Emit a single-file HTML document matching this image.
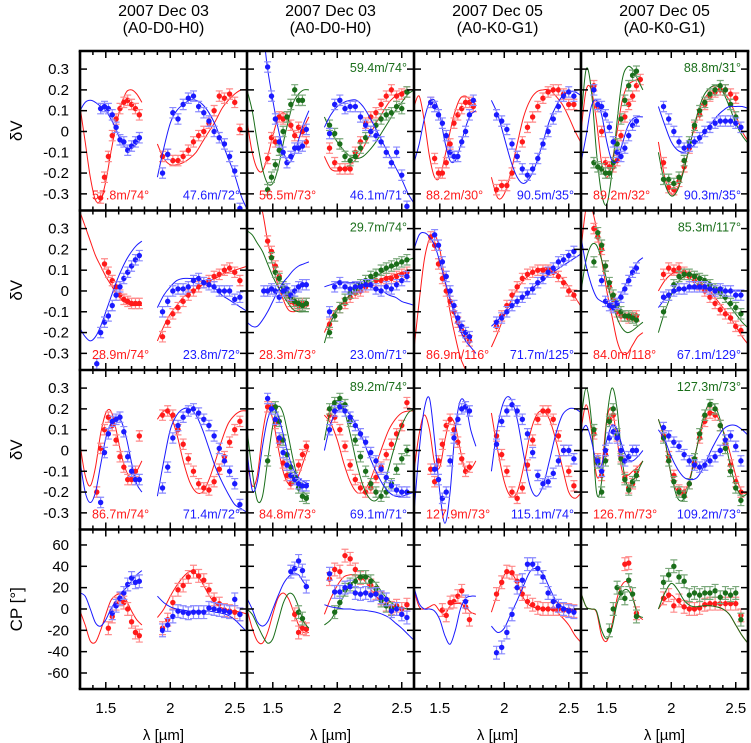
<!DOCTYPE html>
<html><head><meta charset="utf-8"><style>
html,body{margin:0;padding:0;background:#fff;}
svg{display:block;font-family:"Liberation Sans",Arial,sans-serif;}
</style></head><body>
<svg id="chart" width="751" height="743" viewBox="0 0 751 743" xmlns="http://www.w3.org/2000/svg"></svg>
<script>
// ---- wavelength grids (µm) ----
const hW=[1.40,1.43,1.46,1.49,1.52,1.55,1.58,1.61,1.64,1.67,1.70,1.73,1.76];
const kW=[1.94,1.98,2.02,2.06,2.10,2.14,2.18,2.22,2.26,2.30,2.34,2.38,2.42,2.46,2.50,2.54];
const cH=[1.30,1.34,1.38,1.42,1.46,1.50,1.54,1.58,1.62,1.66,1.70,1.74,1.78];
const cK=[1.90,1.95,2.00,2.05,2.10,2.15,2.20,2.25,2.30,2.35,2.40,2.45,2.50,2.55,2.60];
const xTicks=[1.5,2,2.5];
const xTickLabels=["1.5","2","2.5"];
const dvTicks=[-0.3,-0.2,-0.1,0,0.1,0.2,0.3];
const dvTickLabels=["-0.3","-0.2","-0.1","0","0.1","0.2","0.3"];
const cpTicks=[-60,-40,-20,0,20,40,60];
const cpTickLabels=["-60","-40","-20","0","20","40","60"];
const colTitles1=["2007 Dec 03","2007 Dec 03","2007 Dec 05","2007 Dec 05"];
const colTitles2=["(A0-D0-H0)","(A0-D0-H0)","(A0-K0-G1)","(A0-K0-G1)"];
const N=null;
// ---- series data: hp=H points, kp=K points, hc=H model, kc=K model ----
// Row 1
const r1c1_red={hp:[N,N,-0.32,-0.22,-0.12,-0.02,0.06,0.11,0.14,0.15,0.13,0.11,0.08],kp:[-0.12,-0.11,-0.14,-0.14,-0.12,-0.09,-0.05,-0.02,0.0,0.04,0.1,0.17,0.16,0.18,0.14,0.01],hc:[0.12,-0.05,-0.22,-0.33,-0.33,-0.24,-0.1,0.03,0.13,0.19,0.2,0.18,0.14],kc:[-0.06,-0.13,-0.16,-0.16,-0.15,-0.13,-0.1,-0.05,0.0,0.05,0.11,0.15,0.18,0.2,0.2]};
const r1c1_blue={hp:[N,N,0.11,0.12,0.11,0.08,0.02,-0.04,-0.05,-0.09,-0.07,-0.05,-0.03],kp:[-0.2,-0.11,0.09,0.06,0.13,0.16,0.17,0.12,0.09,0.05,0.0,-0.03,-0.06,-0.12,-0.19,-0.37],hc:[0.1,0.14,0.15,0.14,0.12,0.1,0.06,0.01,-0.05,-0.08,-0.08,-0.06,-0.03],kc:[-0.22,-0.08,0.04,0.1,0.13,0.15,0.15,0.13,0.09,0.03,-0.05,-0.13,-0.21,-0.31,-0.38]};
const r1c2_red={hp:[N,N,-0.13,-0.03,-0.05,0.07,0.06,0.07,0.03,-0.02,0.02,0.0,-0.05],kp:[-0.08,-0.15,-0.18,-0.18,-0.18,-0.1,-0.05,0.04,0.07,0.09,0.13,0.17,0.2,0.17,0.18,0.19],hc:[0.05,-0.1,-0.18,-0.19,-0.12,-0.02,0.06,0.09,0.06,0.0,-0.03,0.02,0.07],kc:[-0.12,-0.18,-0.19,-0.18,-0.16,-0.13,-0.08,-0.02,0.04,0.09,0.14,0.17,0.19,0.2,0.2]};
const r1c2_blue={hp:[N,N,0.31,0.17,0.06,-0.05,-0.1,-0.15,-0.12,-0.08,-0.08,-0.07,0.01],kp:[-0.01,0.13,0.15,0.11,0.12,0.12,0.07,0.03,0.0,-0.02,-0.05,-0.1,-0.15,-0.1,-0.21,-0.36],hc:[0.6,0.6,0.6,0.5,0.3,0.15,0.02,-0.09,-0.15,-0.12,-0.04,0.04,0.1],kc:[0.02,0.08,0.12,0.14,0.15,0.15,0.12,0.07,0.01,-0.05,-0.11,-0.17,-0.23,-0.3,-0.35]};
const r1c2_green={hp:[N,N,-0.28,-0.22,-0.16,-0.09,0.0,0.07,0.13,0.2,0.15,0.15,N],kp:[0.03,-0.01,-0.06,-0.12,-0.14,-0.12,-0.08,-0.03,0.0,0.03,0.06,0.08,0.09,0.12,0.11,0.19],hc:[0.2,0.1,-0.05,-0.18,-0.25,-0.25,-0.18,-0.06,0.05,0.14,0.18,0.2,0.2],kc:[0.07,0.0,-0.05,-0.09,-0.12,-0.13,-0.12,-0.09,-0.05,0.0,0.05,0.1,0.14,0.18,0.2]};
const r1c3_red={hp:[N,0.14,-0.13,-0.2,-0.2,-0.15,-0.06,0.04,0.08,0.11,0.14,0.14,0.12],kp:[-0.28,-0.26,-0.26,-0.2,-0.12,-0.05,0.02,0.07,0.12,0.16,0.19,0.2,0.2,0.18,0.13,0.13],hc:[0.12,0.17,0.05,-0.12,-0.22,-0.22,-0.12,0.0,0.1,0.16,0.17,0.15,0.13],kc:[-0.22,-0.32,-0.3,-0.2,-0.06,0.07,0.15,0.19,0.2,0.2,0.17,0.13,0.07,0.0,-0.06]};
const r1c3_blue={hp:[N,0.14,0.12,0.08,0.04,-0.02,-0.1,-0.12,-0.12,-0.05,0.0,0.08,0.15],kp:[0.08,0.05,0.01,-0.06,-0.12,-0.18,-0.21,-0.18,-0.13,-0.06,0.0,0.06,0.12,0.17,0.19,0.17],hc:[-0.15,-0.06,0.06,0.14,0.15,0.08,-0.05,-0.14,-0.14,-0.07,0.02,0.08,0.1],kc:[0.15,0.08,-0.03,-0.14,-0.22,-0.25,-0.22,-0.15,-0.05,0.05,0.12,0.17,0.19,0.19,0.17]};
const r1c4_red={hp:[0.22,0.12,0.0,-0.15,-0.17,-0.17,-0.14,-0.02,0.07,0.13,0.17,0.22,0.25],kp:[-0.15,-0.27,-0.28,-0.24,-0.17,-0.08,0.02,0.08,0.13,0.17,0.19,0.2,0.2,0.18,0.16,N],hc:[0.0,0.2,0.2,0.05,-0.15,-0.22,-0.15,0.0,0.15,0.22,0.24,0.25,0.25],kc:[-0.05,-0.22,-0.3,-0.27,-0.17,-0.05,0.07,0.15,0.19,0.2,0.19,0.15,0.08,0.0,-0.05]};
const r1c4_blue={hp:[0.2,0.13,0.12,0.08,0.02,-0.05,-0.1,-0.12,-0.08,-0.02,0.03,0.05,N],kp:[0.12,0.06,0.0,-0.05,-0.08,-0.07,-0.05,-0.03,0.0,0.02,0.04,0.05,0.05,0.05,0.04,0.02],hc:[-0.15,-0.02,0.12,0.15,0.08,-0.05,-0.14,-0.14,-0.06,0.02,0.06,0.07,0.07],kc:[0.12,0.03,-0.05,-0.09,-0.1,-0.08,-0.05,-0.01,0.03,0.07,0.1,0.12,0.12,0.12,0.11]};
const r1c4_green={hp:[-0.15,-0.17,-0.18,-0.2,-0.2,-0.15,-0.06,0.06,0.15,0.22,0.27,0.29,N],kp:[-0.23,-0.23,-0.25,-0.22,-0.14,-0.05,0.03,0.1,0.14,0.18,0.2,0.22,0.2,0.13,0.07,N],hc:[0.05,0.3,0.2,-0.1,-0.3,-0.35,-0.2,0.05,0.25,0.31,0.3,0.25,0.2],kc:[-0.1,-0.25,-0.31,-0.28,-0.18,-0.05,0.08,0.17,0.21,0.22,0.19,0.12,0.04,-0.02,-0.06]};
// Row 2
const r2c1_red={hp:[N,N,N,0.13,0.09,0.05,0.02,-0.02,-0.04,-0.05,-0.06,-0.06,-0.06],kp:[-0.22,-0.15,-0.11,-0.08,-0.05,-0.02,0.0,0.02,0.04,0.05,0.07,0.08,0.1,0.11,0.09,0.05],hc:[0.38,0.31,0.24,0.17,0.12,0.07,0.03,-0.01,-0.04,-0.06,-0.07,-0.07,-0.07],kc:[-0.24,-0.17,-0.11,-0.07,-0.03,-0.01,0.01,0.03,0.05,0.06,0.08,0.09,0.1,0.11,0.12]};
const r2c1_blue={hp:[N,-0.35,-0.2,-0.15,-0.12,-0.07,-0.02,0.02,0.06,0.09,0.12,0.15,0.17],kp:[-0.1,-0.05,0.0,0.01,0.01,0.02,0.05,0.06,0.04,0.03,0.02,0.0,0.0,0.0,-0.04,-0.03],hc:[-0.18,-0.22,-0.24,-0.22,-0.17,-0.1,-0.03,0.04,0.1,0.15,0.19,0.22,0.24],kc:[-0.08,-0.02,0.02,0.05,0.06,0.06,0.06,0.05,0.03,0.01,-0.02,-0.04,-0.06,-0.08,-0.1]};
const r2c2_red={hp:[N,N,0.24,0.19,0.12,0.07,0.02,-0.02,-0.05,-0.06,-0.07,-0.06,-0.06],kp:[-0.16,-0.12,-0.08,-0.06,-0.03,-0.01,0.0,0.02,0.03,0.05,0.05,0.06,0.06,0.07,0.08,0.09],hc:[0.6,0.6,0.45,0.38,0.24,0.12,0.03,-0.04,-0.09,-0.1,-0.09,-0.08,-0.07],kc:[-0.2,-0.13,-0.08,-0.05,-0.02,0.0,0.02,0.04,0.05,0.06,0.07,0.08,0.09,0.1,0.1]};
const r2c2_blue={hp:[N,0.0,0.0,0.01,0.0,-0.03,0.0,0.01,-0.02,0.0,0.02,0.03,0.03],kp:[-0.1,0.02,0.04,0.02,0.01,0.02,0.02,0.03,0.03,0.01,0.0,0.02,0.01,0.03,0.05,0.07],hc:[-0.15,-0.17,-0.17,-0.14,-0.1,-0.05,0.0,0.04,0.07,0.1,0.12,0.13,0.14],kc:[0.02,0.03,0.04,0.04,0.04,0.04,0.03,0.02,0.01,0.0,-0.02,-0.03,-0.05,-0.06,-0.07]};
const r2c2_green={hp:[N,N,N,0.16,0.09,0.06,0.02,-0.01,-0.03,-0.05,-0.06,-0.07,-0.06],kp:[-0.2,-0.12,-0.08,-0.04,-0.01,0.01,0.03,0.05,0.07,0.08,0.1,0.11,0.12,0.13,0.14,0.15],hc:[0.29,0.27,0.23,0.19,0.13,0.07,0.02,-0.02,-0.06,-0.09,-0.1,-0.1,-0.1],kc:[-0.25,-0.15,-0.09,-0.05,-0.02,0.01,0.03,0.05,0.07,0.09,0.11,0.12,0.14,0.15,0.16]};
const r2c3_red={hp:[N,0.26,0.22,0.13,0.06,0.0,-0.05,-0.1,-0.15,-0.19,-0.22,-0.24,N],kp:[-0.17,-0.12,-0.07,-0.02,0.02,0.06,0.08,0.09,0.1,0.1,0.1,0.09,0.07,0.04,0.0,-0.02],hc:[-0.28,-0.05,0.15,0.25,0.27,0.2,0.05,-0.1,-0.22,-0.32,-0.38,-0.45,-0.5],kc:[-0.27,-0.2,-0.12,-0.05,0.01,0.05,0.08,0.1,0.11,0.11,0.09,0.06,0.02,-0.03,-0.08]};
const r2c3_blue={hp:[N,N,0.27,0.22,0.14,0.07,0.0,-0.07,-0.13,-0.17,-0.2,-0.22,N],kp:[-0.15,-0.13,-0.1,-0.07,-0.05,-0.03,-0.01,0.01,0.04,0.06,0.09,0.11,0.14,0.15,0.17,0.19],hc:[0.2,0.27,0.28,0.26,0.22,0.14,0.05,-0.04,-0.12,-0.19,-0.24,-0.27,-0.3],kc:[-0.17,-0.14,-0.11,-0.08,-0.05,-0.03,0.0,0.03,0.05,0.08,0.1,0.12,0.14,0.16,0.18]};
const r2c4_red={hp:[0.3,0.26,0.2,0.12,0.02,-0.04,-0.1,-0.12,-0.12,-0.13,-0.12,-0.12,N],kp:[0.08,0.11,0.1,0.11,0.09,0.07,0.05,0.03,0.0,-0.03,-0.06,-0.09,-0.11,-0.13,-0.17,-0.19],hc:[0.2,0.4,0.4,0.3,0.15,0.0,-0.12,-0.24,-0.3,-0.3,-0.26,-0.22,-0.2],kc:[0.0,0.05,0.08,0.09,0.09,0.08,0.06,0.03,0.0,-0.04,-0.08,-0.12,-0.17,-0.22,-0.26]};
const r2c4_blue={hp:[N,N,0.05,-0.05,-0.07,-0.08,-0.06,-0.03,0.01,0.05,0.09,0.11,N],kp:[-0.03,-0.02,0.0,0.01,0.01,0.02,0.02,0.02,0.02,0.01,0.0,0.01,0.0,0.0,-0.02,-0.02],hc:[0.26,0.12,0.03,-0.03,-0.05,-0.06,-0.06,-0.04,0.0,0.05,0.1,0.14,0.16],kc:[-0.08,-0.04,-0.01,0.0,0.01,0.01,0.01,0.01,0.01,0.01,0.0,0.0,0.0,0.0,0.0]};
const r2c4_green={hp:[0.14,0.28,0.22,0.12,0.04,-0.02,-0.07,-0.1,-0.12,-0.12,-0.13,-0.14,N],kp:[-0.1,-0.02,0.03,0.07,0.08,0.08,0.07,0.06,0.05,0.03,0.01,-0.01,-0.03,-0.06,-0.08,-0.11],hc:[0.0,0.15,0.22,0.22,0.15,0.05,-0.05,-0.13,-0.18,-0.2,-0.19,-0.17,-0.15],kc:[-0.2,-0.1,-0.02,0.04,0.07,0.08,0.08,0.06,0.04,0.01,-0.03,-0.07,-0.11,-0.15,-0.18]};
// Row 3
const r3c1_red={hp:[N,-0.2,0.01,0.1,0.16,0.12,0.05,-0.03,-0.08,-0.14,-0.14,-0.1,0.07],kp:[0.17,0.19,0.17,0.1,0.03,-0.04,-0.1,-0.16,-0.18,-0.19,-0.15,-0.09,-0.03,0.04,0.1,0.14],hc:[0.03,-0.12,-0.17,-0.08,0.08,0.18,0.19,0.1,-0.02,-0.1,-0.13,-0.1,-0.05],kc:[0.15,0.19,0.17,0.08,-0.05,-0.15,-0.2,-0.2,-0.14,-0.05,0.05,0.13,0.17,0.19,0.19]};
const r3c1_blue={hp:[N,N,-0.25,-0.01,0.08,0.14,0.15,0.16,0.09,-0.03,-0.1,-0.14,-0.14],kp:[-0.18,-0.08,0.06,0.12,0.16,0.19,0.2,0.18,0.15,0.12,0.07,0.01,-0.05,-0.1,-0.16,-0.26],hc:[-0.05,-0.2,-0.25,-0.2,-0.07,0.06,0.13,0.16,0.14,0.06,-0.06,-0.16,-0.2],kc:[-0.22,-0.05,0.1,0.17,0.2,0.2,0.17,0.1,0.01,-0.08,-0.15,-0.21,-0.26,-0.28,-0.3]};
const r3c2_red={hp:[N,N,0.21,0.21,0.13,0.04,-0.06,-0.12,-0.16,-0.13,-0.07,-0.02,0.02],kp:[0.17,0.16,0.1,0.02,-0.07,-0.14,-0.18,-0.2,-0.18,-0.13,-0.08,-0.02,0.03,0.08,0.12,0.23],hc:[-0.05,-0.17,-0.12,0.08,0.2,0.15,0.02,-0.1,-0.16,-0.16,-0.12,-0.05,0.02],kc:[0.17,0.13,0.05,-0.06,-0.15,-0.2,-0.2,-0.15,-0.07,0.02,0.1,0.15,0.18,0.19,0.19]};
const r3c2_blue={hp:[N,N,0.25,0.2,0.15,0.06,-0.01,-0.07,-0.12,-0.14,-0.16,-0.17,-0.17],kp:[0.1,0.19,0.21,0.19,0.16,0.12,0.08,0.04,-0.01,-0.05,-0.09,-0.13,-0.17,-0.19,-0.2,-0.2],hc:[0.0,-0.19,-0.15,0.02,0.15,0.2,0.17,0.08,-0.02,-0.09,-0.13,-0.15,-0.16],kc:[0.0,0.13,0.19,0.2,0.17,0.12,0.05,-0.03,-0.1,-0.16,-0.2,-0.22,-0.22,-0.21,-0.2]};
const r3c2_green={hp:[N,N,-0.05,0.2,0.21,0.14,0.05,-0.02,-0.08,-0.13,-0.18,-0.22,-0.23],kp:[0.2,0.23,0.25,0.22,0.14,0.05,-0.03,-0.1,-0.16,-0.2,-0.22,-0.2,-0.16,-0.09,-0.04,0.0],hc:[0.1,-0.1,-0.24,-0.22,-0.05,0.12,0.21,0.18,0.07,-0.05,-0.15,-0.2,-0.22],kc:[0.05,0.2,0.24,0.2,0.08,-0.06,-0.17,-0.23,-0.24,-0.19,-0.08,0.03,0.12,0.18,0.2]};
const r3c3_red={hp:[N,-0.09,-0.15,-0.05,0.03,0.12,0.15,0.1,0.04,-0.04,-0.1,-0.08,N],kp:[0.07,-0.02,-0.1,-0.2,-0.23,-0.18,-0.07,0.05,0.15,0.19,0.19,0.15,0.07,0.0,-0.1,-0.17],hc:[-0.1,0.08,0.17,0.1,-0.06,-0.08,0.05,0.15,0.12,0.0,-0.1,-0.09,-0.05],kc:[0.18,0.0,-0.15,-0.22,-0.2,-0.08,0.08,0.17,0.19,0.15,0.05,-0.08,-0.2,-0.23,-0.2]};
const r3c3_blue={hp:[N,N,-0.09,-0.14,-0.23,-0.2,-0.05,0.06,0.15,0.2,0.21,0.19,N],kp:[0.03,0.14,0.19,0.22,0.19,0.15,0.08,-0.01,-0.12,-0.16,-0.15,-0.11,-0.05,0.0,0.0,-0.04],hc:[-0.3,0.0,0.2,0.25,0.05,-0.2,-0.35,-0.2,0.1,0.24,0.22,0.1,0.02],kc:[-0.1,0.12,0.24,0.25,0.15,-0.02,-0.17,-0.22,-0.17,-0.05,0.08,0.17,0.2,0.2,0.18]};
const r3c4_red={hp:[0.08,-0.04,-0.12,-0.02,0.15,0.17,0.07,-0.03,-0.13,-0.18,-0.16,-0.1,N],kp:[0.07,-0.03,-0.12,-0.19,-0.2,-0.16,-0.06,0.06,0.14,0.18,0.17,0.12,0.03,-0.07,-0.15,-0.2],hc:[0.1,0.22,0.1,-0.12,-0.08,0.15,0.2,0.05,-0.1,-0.12,-0.1,-0.08,-0.05],kc:[0.15,0.05,-0.12,-0.2,-0.2,-0.12,0.02,0.13,0.18,0.17,0.1,0.0,-0.12,-0.2,-0.2]};
const r3c4_blue={hp:[N,-0.05,-0.1,0.0,0.06,0.09,0.06,0.0,-0.05,-0.03,0.0,0.0,N],kp:[0.11,0.07,0.04,0.02,-0.02,-0.05,-0.07,-0.08,-0.07,-0.05,-0.03,0.0,0.05,0.07,0.02,-0.05],hc:[0.08,0.12,0.05,-0.06,-0.07,0.05,0.12,0.1,0.02,-0.04,-0.05,-0.03,0.0],kc:[0.1,0.05,-0.03,-0.09,-0.13,-0.14,-0.13,-0.08,-0.01,0.05,0.1,0.12,0.12,0.1,0.07]};
const r3c4_green={hp:[0.1,-0.06,-0.2,-0.05,0.14,0.2,0.08,-0.04,-0.14,-0.19,-0.15,-0.12,N],kp:[0.06,-0.05,-0.15,-0.2,-0.22,-0.16,-0.04,0.08,0.17,0.22,0.2,0.12,0.01,-0.1,-0.18,-0.24],hc:[0.15,0.3,0.15,-0.2,-0.15,0.15,0.3,0.2,-0.05,-0.17,-0.15,-0.1,-0.05],kc:[0.15,0.05,-0.12,-0.23,-0.23,-0.13,0.02,0.16,0.23,0.2,0.1,-0.05,-0.17,-0.22,-0.2]};
// Row 4 (closure phase, degrees)
const r4c1_red={hp:[N,N,N,N,-18,-7,5,9,6,0,-12,-22,-25],kp:[-18,-10,6,18,22,30,35,31,27,18,9,5,-1,-2,-3,-5],hc:[-2,-15,-30,-31,-20,-5,8,13,14,8,-2,-10,-15],kc:[-8,0,12,22,30,35,33,24,13,5,1,-1,-2,-3,-5]};
const r4c1_blue={hp:[N,N,N,N,N,-4,3,10,15,23,29,25,26],kp:[-20,-15,-7,-2,-3,-4,-3,-3,-3,1,0,-1,-2,-3,9,-5],hc:[15,12,0,-13,-16,-10,0,8,15,20,26,32,36],kc:[12,6,2,0,-1,-2,-2,-2,-2,-3,-4,-6,-10,-16,-22]};
const r4c2_red={hp:[N,N,N,N,N,N,N,N,N,-5,-22,-18,-19],kp:[28,37,35,50,47,37,29,30,22,15,10,4,1,3,0,4],hc:[0,-18,-30,-32,-22,-5,10,15,10,-2,-15,-22,-22],kc:[-5,10,22,30,32,32,28,20,12,6,3,2,1,0,0]};
const r4c2_blue={hp:[N,N,N,N,N,N,N,N,35,38,45,36,21],kp:[33,16,16,20,21,15,14,15,13,14,11,9,-2,0,-5,-8],hc:[10,0,-12,-16,-12,0,12,23,30,33,32,25,20],kc:[4,2,1,0,0,-1,-1,-2,-3,-5,-8,-13,-18,-24,-30]};
const r4c2_green={hp:[N,N,N,N,N,N,N,N,N,N,-3,-9,N],kp:[N,-3,6,18,23,26,30,30,26,19,8,3,0,N,N,N],hc:[0,-5,-15,-25,-32,-28,-12,5,14,13,2,-12,-18],kc:[-15,-10,0,12,22,29,32,30,24,15,8,3,1,0,0]};
const r4c3_red={hp:[N,N,N,N,-1,-6,6,7,12,17,2,-10,N],kp:[14,25,35,34,26,14,7,4,1,0,0,0,0,-1,-1,-2],hc:[18,2,0,2,4,-2,-5,3,5,5,2,-3,-5],kc:[-3,15,32,34,25,10,3,1,0,0,-2,-8,-15,-25,-32]};
const r4c3_blue={hp:[N,N,N,N,N,N,N,N,N,N,7,N,N],kp:[-41,-36,-22,-5,20,27,42,42,38,30,15,7,3,0,-2,-3],hc:[20,5,0,0,-2,-10,-25,-33,-20,0,10,12,12],kc:[-16,-22,-18,-5,8,22,35,38,33,20,8,2,0,0,0]};
const r4c4_red={hp:[N,N,N,N,N,N,N,N,42,43,N,-4,N],kp:[10,13,3,8,2,0,0,1,4,5,5,5,5,5,5,-6],hc:[15,2,0,-3,-25,-30,-15,10,23,25,12,-5,-10],kc:[0,8,13,7,2,1,2,3,3,2,0,-5,-15,-25,-33]};
const r4c4_green={hp:[N,N,N,N,-20,0,20,15,10,27,14,-7,N],kp:[25,32,40,30,26,13,15,13,15,15,17,11,15,13,15,-10],hc:[15,2,0,-2,-20,-28,-18,5,16,18,10,-5,-8],kc:[0,15,24,18,8,3,2,3,3,2,0,-5,-15,-25,-33]};

const COL={red:"#ff1a1a",blue:"#1a1aff",green:"#1a6e1a"};
const ERR={red:"#ff8a8a",blue:"#8a8aff",green:"#7aa87a"};
const colX=[80,247,414,581,748];
const rowY=[51,210.5,370,529.5,689];
const X0=1.3,X1=2.595;
const DV=[-0.38,0.387], CP=[-75,74.5];

const panels=[
 {r:0,c:0,s:[["red",r1c1_red],["blue",r1c1_blue]],lab:["57.8m/74°","47.6m/72°",null]},
 {r:0,c:1,s:[["red",r1c2_red],["green",r1c2_green],["blue",r1c2_blue]],lab:["56.5m/73°","46.1m/71°","59.4m/74°"]},
 {r:0,c:2,s:[["red",r1c3_red],["blue",r1c3_blue]],lab:["88.2m/30°","90.5m/35°",null]},
 {r:0,c:3,s:[["red",r1c4_red],["green",r1c4_green],["blue",r1c4_blue]],lab:["89.2m/32°","90.3m/35°","88.8m/31°"]},
 {r:1,c:0,s:[["red",r2c1_red],["blue",r2c1_blue]],lab:["28.9m/74°","23.8m/72°",null]},
 {r:1,c:1,s:[["red",r2c2_red],["green",r2c2_green],["blue",r2c2_blue]],lab:["28.3m/73°","23.0m/71°","29.7m/74°"]},
 {r:1,c:2,s:[["red",r2c3_red],["blue",r2c3_blue]],lab:["86.9m/116°","71.7m/125°",null]},
 {r:1,c:3,s:[["red",r2c4_red],["green",r2c4_green],["blue",r2c4_blue]],lab:["84.0m/118°","67.1m/129°","85.3m/117°"]},
 {r:2,c:0,s:[["red",r3c1_red],["blue",r3c1_blue]],lab:["86.7m/74°","71.4m/72°",null]},
 {r:2,c:1,s:[["red",r3c2_red],["green",r3c2_green],["blue",r3c2_blue]],lab:["84.8m/73°","69.1m/71°","89.2m/74°"]},
 {r:2,c:2,s:[["red",r3c3_red],["blue",r3c3_blue]],lab:["127.9m/73°","115.1m/74°",null]},
 {r:2,c:3,s:[["red",r3c4_red],["green",r3c4_green],["blue",r3c4_blue]],lab:["126.7m/73°","109.2m/73°","127.3m/73°"]},
 {r:3,c:0,s:[["red",r4c1_red],["blue",r4c1_blue]],lab:[null,null,null]},
 {r:3,c:1,s:[["red",r4c2_red],["green",r4c2_green],["blue",r4c2_blue]],lab:[null,null,null]},
 {r:3,c:2,s:[["red",r4c3_red],["blue",r4c3_blue]],lab:[null,null,null]},
 {r:3,c:3,s:[["red",r4c4_red],["green",r4c4_green]],lab:[null,null,null]}
];

const NS="http://www.w3.org/2000/svg";
const svg=document.getElementById("chart");
function mk(tag,attrs,parent){const e=document.createElementNS(NS,tag);for(const k in attrs)e.setAttribute(k,attrs[k]);(parent||svg).appendChild(e);return e;}
function xScale(c){const a=colX[c],b=colX[c+1];return v=>a+(v-X0)/(X1-X0)*(b-a);}
function yScale(r){const t=rowY[r],b=rowY[r+1];const d=r===3?CP:DV;return v=>b-(v-d[0])/(d[1]-d[0])*(b-t);}
function crPath(pts){
 if(pts.length<2)return "";
 let d="M"+pts[0][0].toFixed(1)+","+pts[0][1].toFixed(1);
 for(let i=0;i<pts.length-1;i++){
  const p0=pts[i-1]||pts[i],p1=pts[i],p2=pts[i+1],p3=pts[i+2]||p2;
  const c1=[p1[0]+(p2[0]-p0[0])/6,p1[1]+(p2[1]-p0[1])/6];
  const c2=[p2[0]-(p3[0]-p1[0])/6,p2[1]-(p3[1]-p1[1])/6];
  d+="C"+c1[0].toFixed(1)+","+c1[1].toFixed(1)+" "+c2[0].toFixed(1)+","+c2[1].toFixed(1)+" "+p2[0].toFixed(1)+","+p2[1].toFixed(1);
 }
 return d;
}

// titles
for(let c=0;c<4;c++){
 const cx=(colX[c]+colX[c+1])/2;
 const t1=mk("text",{x:cx,y:16,"text-anchor":"middle","font-size":"16"});
 
 
 t1.textContent=colTitles1[c];
 const t2=mk("text",{x:cx,y:33,"text-anchor":"middle","font-size":"16"});
 
 
 t2.textContent=colTitles2[c];
 const xt=mk("text",{x:cx,y:740,"text-anchor":"middle","font-size":"15"});
 
 
 xt.textContent="λ [µm]";
 const xs=xScale(c);
 xTicks.forEach((v,i)=>{
  const tl=mk("text",{x:xs(v),y:713,"text-anchor":"middle","font-size":"15"});
  
  
  tl.textContent=xTickLabels[i];
 });
}
// y labels
for(let r=0;r<4;r++){
 const ys=yScale(r);
 const ticks=r===3?cpTicks:dvTicks, labs=r===3?cpTickLabels:dvTickLabels;
 ticks.forEach((v,i)=>{
  const tl=mk("text",{x:69,y:ys(v)+5,"text-anchor":"end","font-size":"15"});
  
  
  tl.textContent=labs[i];
 });
 const cy=(rowY[r]+rowY[r+1])/2;
 const yt=mk("text",{x:0,y:0,"text-anchor":"middle","font-size":"17",transform:"translate(22,"+cy+") rotate(-90)"});
 
 
 yt.textContent=r===3?"CP [°]":"δV";
}

// panels
const defs=mk("defs",{});
panels.forEach((p,pi)=>{
 const xs=xScale(p.c), ys=yScale(p.r);
 const L=colX[p.c],R=colX[p.c+1],T=rowY[p.r],B=rowY[p.r+1];
 const cp=mk("clipPath",{id:"cl"+pi},defs);
 mk("rect",{x:L,y:T,width:R-L,height:B-T},cp);
 const g=mk("g",{"clip-path":"url(#cl"+pi+")"});
 
 
 const eb=p.r===3?6:0.025;
 p.s.forEach(([name,s])=>{
  const sg=mk("g",{},g);
  
  
  [[cH,s.hc],[cK,s.kc]].forEach(([w,v])=>{
   const pts=[];w.forEach((x,i)=>{if(v[i]!==null)pts.push([xs(x),ys(v[i])]);});
   const path=mk("path",{d:crPath(pts),fill:"none",stroke:COL[name],"stroke-width":"1"},sg);
   
   
  });
  [[hW,s.hp],[kW,s.kp]].forEach(([w,v])=>{
   w.forEach((x,i)=>{
    if(v[i]===null||v[i]===undefined)return;
    const px=xs(x),py=ys(v[i]),y1=ys(v[i]+eb),y2=ys(v[i]-eb);
    const e=mk("path",{d:`M${px},${y1}V${y2}M${px-3.5},${y1}H${px+3.5}M${px-3.5},${y2}H${px+3.5}`,stroke:ERR[name],"stroke-width":"1.2",fill:"none"},sg);
    
    
    const dot=mk("circle",{cx:px,cy:py,r:"2.7",fill:COL[name]},sg);
    
    
   });
  });
 });
 const tk=mk("g",{stroke:"#000","stroke-width":"1.5"});
 
 
 for(let k=14;k<=25;k++){const v=k/10;const px=xs(v);const len=(k%5===0)?7:4;
  mk("line",{x1:px,y1:T,x2:px,y2:T+len},tk);mk("line",{x1:px,y1:B,x2:px,y2:B-len},tk);}
 (p.r===3?cpTicks:dvTicks).forEach(v=>{const py=ys(v);
  mk("line",{x1:L,y1:py,x2:L+7,y2:py},tk);mk("line",{x1:R,y1:py,x2:R-7,y2:py},tk);});
 if(p.lab[0]){const t=mk("text",{x:L+12,y:B-11,"font-size":"12.5",fill:COL.red});
  t.textContent=p.lab[0];}
 if(p.lab[1]){const t=mk("text",{x:R-7,y:B-11,"font-size":"12.5",fill:COL.blue,"text-anchor":"end"});
  t.textContent=p.lab[1];}
 if(p.lab[2]){const t=mk("text",{x:R-7,y:T+21,"font-size":"12.5",fill:COL.green,"text-anchor":"end"});
  t.textContent=p.lab[2];}
});
const fr=mk("g",{stroke:"#000","stroke-width":"2.6",fill:"none"});


colX.forEach(x=>mk("line",{x1:x,y1:rowY[0],x2:x,y2:rowY[4]},fr));
rowY.forEach(y=>mk("line",{x1:colX[0]-1.3,y1:y,x2:colX[4]+1.3,y2:y},fr));
</script>
</body></html>
